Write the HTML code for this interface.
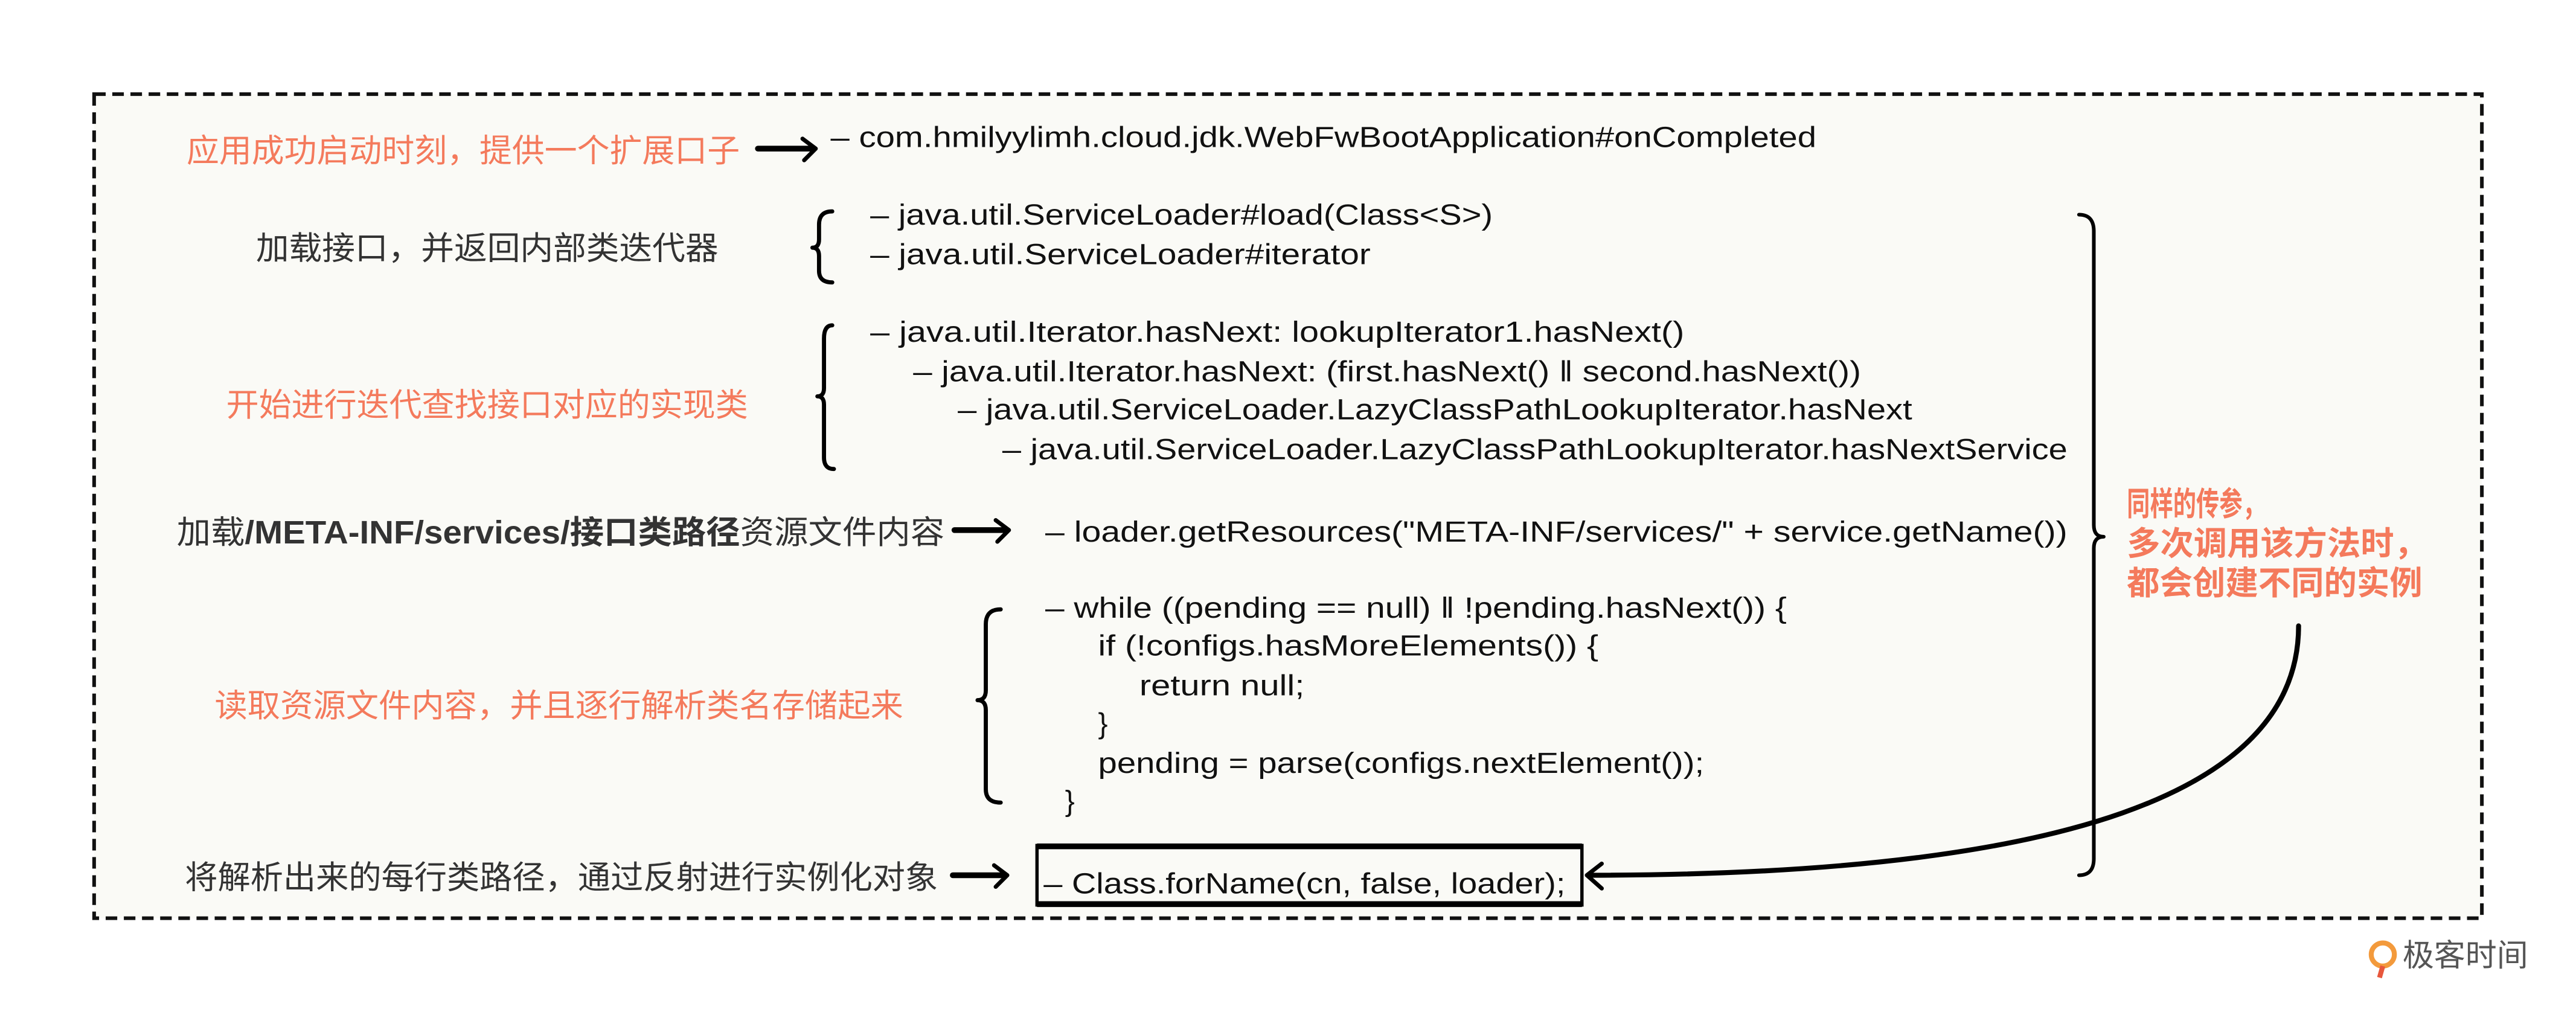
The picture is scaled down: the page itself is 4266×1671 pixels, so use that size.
<!DOCTYPE html>
<html><head><meta charset="utf-8"><style>
html,body{margin:0;padding:0;background:#fff;}
svg{display:block;}
text{font-family:"Liberation Sans","Noto Sans CJK SC",sans-serif;}
.c{font-size:17.5px;fill:#111;}
.k{font-size:19.5px;fill:#333;}
.r{font-size:19.5px;fill:#f47a5c;}
.rb{font-size:20px;fill:#f47a5c;font-weight:bold;}
</style></head><body>
<svg width="4266" height="1671" viewBox="0 0 1560 611" preserveAspectRatio="none" xmlns="http://www.w3.org/2000/svg">
<rect x="0" y="0" width="1560" height="611" fill="#ffffff"/>
<rect x="57" y="57" width="1446" height="499" fill="#fafaf6" stroke="#111" stroke-width="2.2" stroke-dasharray="7,4"/>

<text class="r" x="113" y="98" textLength="335" lengthAdjust="spacingAndGlyphs">应用成功启动时刻，提供一个扩展口子</text>
<text class="k" x="155" y="157" textLength="280" lengthAdjust="spacingAndGlyphs">加载接口，并返回内部类迭代器</text>
<text class="r" x="137" y="252" textLength="316" lengthAdjust="spacingAndGlyphs">开始进行迭代查找接口对应的实现类</text>
<text class="k" x="107" y="329" textLength="465" lengthAdjust="spacingAndGlyphs">加载<tspan font-weight="bold">/META-INF/services/接口类路径</tspan>资源文件内容</text>
<text class="r" x="130" y="434" textLength="417" lengthAdjust="spacingAndGlyphs">读取资源文件内容，并且逐行解析类名存储起来</text>
<text class="k" x="112" y="538" textLength="456" lengthAdjust="spacingAndGlyphs">将解析出来的每行类路径，通过反射进行实例化对象</text>

<text class="c" x="503" y="89" textLength="597" lengthAdjust="spacingAndGlyphs">– com.hmilyylimh.cloud.jdk.WebFwBootApplication#onCompleted</text>
<text class="c" x="527" y="136" textLength="377" lengthAdjust="spacingAndGlyphs">– java.util.ServiceLoader#load(Class&lt;S&gt;)</text>
<text class="c" x="527" y="160" textLength="303" lengthAdjust="spacingAndGlyphs">– java.util.ServiceLoader#iterator</text>
<text class="c" x="527" y="207" textLength="493" lengthAdjust="spacingAndGlyphs">– java.util.Iterator.hasNext: lookupIterator1.hasNext()</text>
<text class="c" x="553" y="231" textLength="574" lengthAdjust="spacingAndGlyphs">– java.util.Iterator.hasNext: (first.hasNext() ‖ second.hasNext())</text>
<text class="c" x="580" y="254" textLength="578" lengthAdjust="spacingAndGlyphs">– java.util.ServiceLoader.LazyClassPathLookupIterator.hasNext</text>
<text class="c" x="607" y="278" textLength="645" lengthAdjust="spacingAndGlyphs">– java.util.ServiceLoader.LazyClassPathLookupIterator.hasNextService</text>
<text class="c" x="633" y="328" textLength="619" lengthAdjust="spacingAndGlyphs">– loader.getResources("META-INF/services/" + service.getName())</text>
<text class="c" x="633" y="374" textLength="449" lengthAdjust="spacingAndGlyphs">– while ((pending == null) ‖ !pending.hasNext()) {</text>
<text class="c" x="665" y="397" textLength="303" lengthAdjust="spacingAndGlyphs">if (!configs.hasMoreElements()) {</text>
<text class="c" x="690" y="421" textLength="100" lengthAdjust="spacingAndGlyphs">return null;</text>
<text class="c" x="665" y="444">}</text>
<text class="c" x="665" y="468" textLength="367" lengthAdjust="spacingAndGlyphs">pending = parse(configs.nextElement());</text>
<text class="c" x="645" y="491">}</text>

<rect x="628" y="512" width="330" height="36" fill="none" stroke="#000" stroke-width="2"/>
<line x1="628" y1="512.5" x2="958" y2="512.5" stroke="#000" stroke-width="3.5"/>
<line x1="628" y1="547.5" x2="958" y2="547.5" stroke="#000" stroke-width="3.5"/>
<text class="c" x="632" y="541" textLength="316" lengthAdjust="spacingAndGlyphs">– Class.forName(cn, false, loader);</text>

<text class="rb" x="1288" y="312" textLength="84" lengthAdjust="spacingAndGlyphs">同样的传参，</text>
<text class="rb" x="1288" y="336" textLength="182" lengthAdjust="spacingAndGlyphs">多次调用该方法时，</text>
<text class="rb" x="1288" y="360" textLength="179" lengthAdjust="spacingAndGlyphs">都会创建不同的实例</text>

<g fill="none" stroke="#000" stroke-linecap="round" stroke-linejoin="round">
  <path d="M459 90 L492 90" stroke-width="3.5"/>
  <path d="M486 84 L494 90 L487 97" stroke-width="2.5"/>
  <path d="M578 321 L608 321" stroke-width="3.5"/>
  <path d="M603 315 L611 321 L604 328" stroke-width="2.5"/>
  <path d="M577 530 L607 530" stroke-width="3.5"/>
  <path d="M602 524 L610 530 L603 537" stroke-width="2.5"/>
  <path d="M504 128 Q496 128 496 136 L496 145 Q496 150 492 150 Q496 150 496 155 L496 164 Q496 171 504 171" stroke-width="2.5"/>
  <path d="M504 197 Q499 197 499 205 L499 235 Q499 240 495 240 Q499 240 499 245 L499 277 Q499 284 505 284" stroke-width="2.5"/>
  <path d="M606 369 Q597 369 597 378 L597 418 Q597 424 592 424 Q597 424 597 430 L597 478 Q597 486 606 486" stroke-width="2.5"/>
  <path d="M1259 130 Q1268 130 1268 140 L1268 318 Q1268 325 1274 325 Q1268 325 1268 332 L1268 520 Q1268 530 1259 530" stroke-width="2.2"/>
  <path d="M1392 379 C1392 480 1250 530 962 530" stroke-width="3"/>
  <path d="M970 523 L961 530 L970 538" stroke-width="2.5"/>
</g>

<circle cx="1443" cy="578" r="7" fill="none" stroke="#f39a3c" stroke-width="3"/>
<path d="M1443 585 L1441 592" stroke="#e8573c" stroke-width="3"/>
<text x="1455" y="585" style="font-size:19px;fill:#555;font-family:'Liberation Sans','Noto Sans CJK SC',sans-serif;">极客时间</text>
</svg>
</body></html>
